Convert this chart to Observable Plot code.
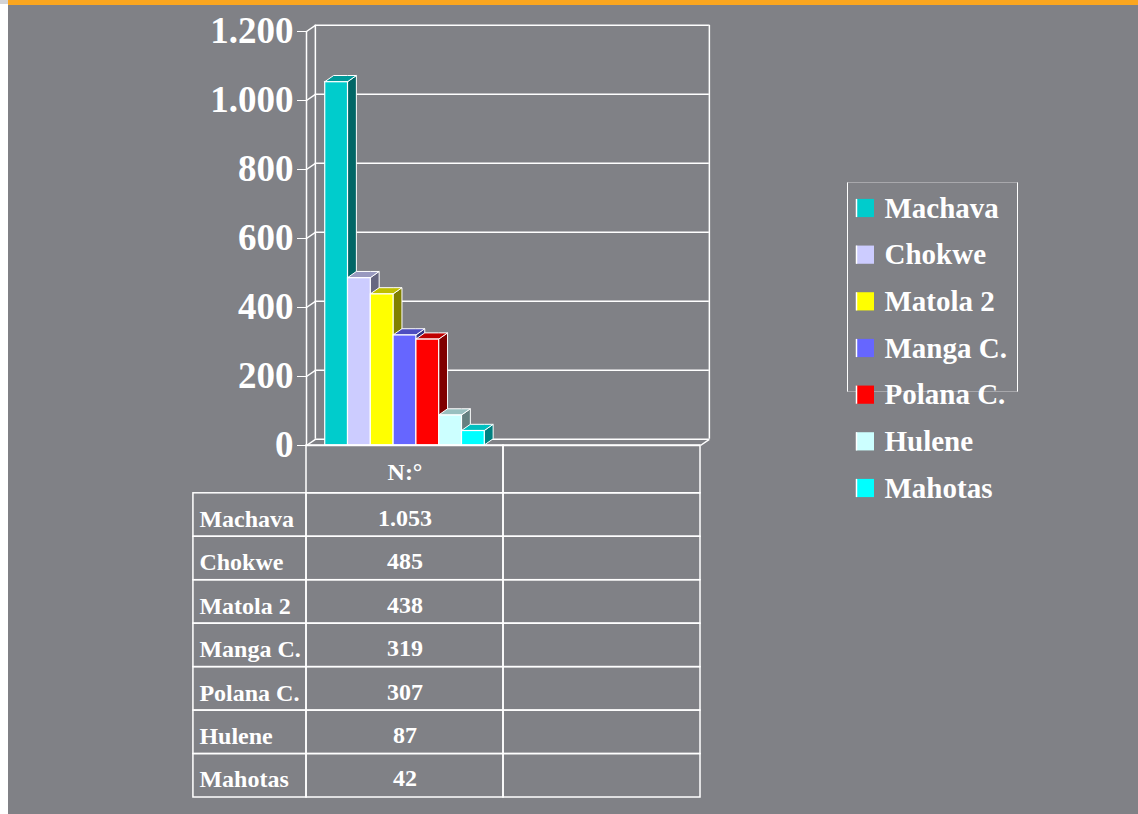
<!DOCTYPE html>
<html>
<head>
<meta charset="utf-8">
<script src="https://cdn.jsdelivr.net/npm/d3@7"></script>
<script src="https://cdn.jsdelivr.net/npm/@observablehq/plot@0.6"></script>
<style>
  html, body { margin: 0; padding: 0; background: #808186; }
  #page { position: relative; width: 1138px; height: 814px; overflow: hidden; background: #808186; }
  #page svg { position: absolute; left: 0; top: 0; }
  #strip { position: absolute; left: 0; top: 0; width: 8px; height: 814px; background: #ffffff; }
  #stripTop { position: absolute; left: 0; top: 0; width: 8px; height: 4px; background: #d3d3d5; }
  #band { position: absolute; left: 8px; top: 0; width: 1130px; height: 5px; background: #fba61f; }
  #legendBox { position: absolute; left: 847px; top: 182px; width: 171px; height: 210px; box-sizing: border-box;
    border-left: 1.5px solid #ffffff; border-right: 1.5px solid #ffffff;
    border-top: 1px solid #a8a8ac; border-bottom: 1px solid #a8a8ac; }
</style>
</head>
<body>
<div id="page">
  <div id="strip"></div>
  <div id="stripTop"></div>
  <div id="band"></div>
  <div id="legendBox"></div>
</div>
<script>
// ---- data ----
const categories = ["Machava", "Chokwe", "Matola 2", "Manga C.", "Polana C.", "Hulene", "Mahotas"];
const values = [1053, 485, 438, 319, 307, 87, 42];
const columnHeader = "N:°";
const yTicks = [0, 200, 400, 600, 800, 1000, 1200];
const palette = ["#00CCCC", "#CCCCFF", "#FFFF00", "#6666FF", "#FF0000", "#CCFFFF", "#00FFFF"];

// ---- formatting ----
const locale = d3.formatLocale({decimal: ",", thousands: ".", grouping: [3], currency: ["", ""]});
const fmt = locale.format(",d");
const valueLabels = values.map(fmt);

// ---- layout ----
const W = 1138, H = 814;
const plotLeft = 306, plotRight = 700;         // two category slots: "N:°" and an empty one
const catStart = 0, catEnd = 2;
const labelCol = 0.574;                        // width of the table's label column, in category units
const headerH = 1.1;                           // header row height, in body-row units
const depthX = 0.045, depthY = 18;             // 3D depth offset in data units
const groupWidth = 0.81;                       // fraction of category occupied by bars
const step = groupWidth / categories.length;

const shade = (c, k) => { const r = d3.rgb(c); return d3.rgb(r.r * k, r.g * k, r.b * k).formatHex(); };

const bars = categories.map((name, i) => ({
  name, value: values[i],
  x1: 0.5 - groupWidth / 2 + i * step,
  x2: 0.5 - groupWidth / 2 + (i + 1) * step,
  front: palette[i], top: shade(palette[i], 0.75), side: shade(palette[i], 0.5)
}));

const sideRows = bars.flatMap(b => [
  {name: b.name, x: b.x2, y1: 0, y2: b.value, fill: b.side},
  {name: b.name, x: b.x2 + depthX, y1: depthY, y2: b.value + depthY, fill: b.side}
]);
const topRows = bars.flatMap(b => [
  {name: b.name, x: b.x1, y1: b.value, y2: b.value, fill: b.top},
  {name: b.name, x: b.x1 + depthX, y1: b.value, y2: b.value + depthY, fill: b.top},
  {name: b.name, x: b.x2, y1: b.value, y2: b.value + depthY, fill: b.top},
  {name: b.name, x: b.x2 + depthX, y1: b.value + depthY, y2: b.value + depthY, fill: b.top}
]);

const baseStyle = {background: "transparent", color: "white", fontFamily: "'Liberation Serif', 'Times New Roman', serif", fontWeight: "bold"};
const white = {stroke: "white", strokeWidth: 1.5};
const xCfg = {type: "linear", domain: [catStart, catEnd], range: [plotLeft, plotRight], axis: null};

// ---- chart ----
const chart = Plot.plot({
  width: W, height: H,
  marginLeft: plotLeft, marginRight: W - plotRight, marginTop: 31, marginBottom: H - 445,
  x: xCfg,
  y: {domain: [0, 1200], range: [445, 31], ticks: yTicks, tickFormat: fmt, tickSize: 9, tickPadding: 4, label: null},
  color: {type: "identity"},
  style: {...baseStyle, fontSize: "37px"},
  marks: [
    Plot.ruleY(yTicks, {y: d => d + depthY, x1: catStart + depthX, x2: catEnd + depthX, ...white}),
    Plot.ruleX([catStart + depthX, catEnd + depthX], {y1: depthY, y2: 1200 + depthY, ...white}),
    Plot.link(yTicks, {x1: catStart, y1: d => d, x2: catStart + depthX, y2: d => d + depthY, ...white}),
    Plot.ruleX([catStart], {y1: 0, y2: 1200, ...white}),
    Plot.ruleY([0], {x1: catStart, x2: catEnd, ...white}),
    Plot.link([0], {x1: catEnd, y1: 0, x2: catEnd + depthX, y2: depthY, ...white}),
    Plot.areaY(sideRows, {x: "x", y1: "y1", y2: "y2", z: "name", fill: "fill", stroke: "white", strokeWidth: 1}),
    Plot.areaY(topRows, {x: "x", y1: "y1", y2: "y2", z: "name", fill: "fill", stroke: "white", strokeWidth: 1}),
    Plot.rect(bars, {x1: "x1", x2: "x2", y1: 0, y2: "value", fill: "front", stroke: "white", strokeWidth: 1.2})
  ]
});
document.getElementById("page").appendChild(chart);

// ---- data table ----
const colStarts = [-labelCol, 0, 1];
const colEnds = [0, 1, 2];
const headerCells = [1, 2].map(c => ({c}));
const bodyCells = categories.flatMap((name, r) => [0, 1, 2].map(c => ({c, r})));
const rowMid = i => headerH + i + 0.5;
const table = Plot.plot({
  width: W, height: H,
  marginLeft: plotLeft, marginRight: W - plotRight, marginTop: 445, marginBottom: H - 797,
  x: xCfg,
  y: {type: "linear", domain: [0, headerH + categories.length], range: [445, 797], axis: null},
  style: {...baseStyle, fontSize: "24px"},
  marks: [
    Plot.rect(headerCells, {x1: d => colStarts[d.c], x2: d => colEnds[d.c], y1: 0, y2: headerH, fill: "none", ...white}),
    Plot.rect(bodyCells, {x1: d => colStarts[d.c], x2: d => colEnds[d.c], y1: d => headerH + d.r, y2: d => headerH + d.r + 1, fill: "none", ...white}),
    Plot.text([columnHeader], {x: 0.5, y: headerH / 2, text: d => d, fill: "white", dy: 3}),
    Plot.text(categories, {x: -labelCol, y: (d, i) => rowMid(i), text: d => d, textAnchor: "start", dx: 6, dy: 4, fill: "white"}),
    Plot.text(valueLabels, {x: 0.5, y: (d, i) => rowMid(i), text: d => d, dy: 3, fill: "white"})
  ]
});
document.getElementById("page").appendChild(table);

// ---- legend ----
const legend = Plot.plot({
  width: W, height: H,
  marginLeft: 856, marginRight: W - 874, marginTop: 208, marginBottom: H - 488,
  x: {domain: [0, 1], range: [856, 874], axis: null},
  y: {domain: [0, categories.length - 1], range: [208, 488], axis: null},
  color: {type: "identity"},
  style: {...baseStyle, fontSize: "29px"},
  marks: [
    Plot.rect(categories, {x1: 0, x2: 1, y1: (d, i) => i - 0.195, y2: (d, i) => i + 0.195, fill: (d, i) => palette[i]}),
    Plot.ruleX(categories, {x: 0, y1: (d, i) => i - 0.195, y2: (d, i) => i + 0.195, stroke: "white", strokeWidth: 1.5}),
    Plot.text(categories, {x: 1, y: (d, i) => i, text: d => d, textAnchor: "start", dx: 10, fill: "white"})
  ]
});
document.getElementById("page").appendChild(legend);
</script>
</body>
</html>
